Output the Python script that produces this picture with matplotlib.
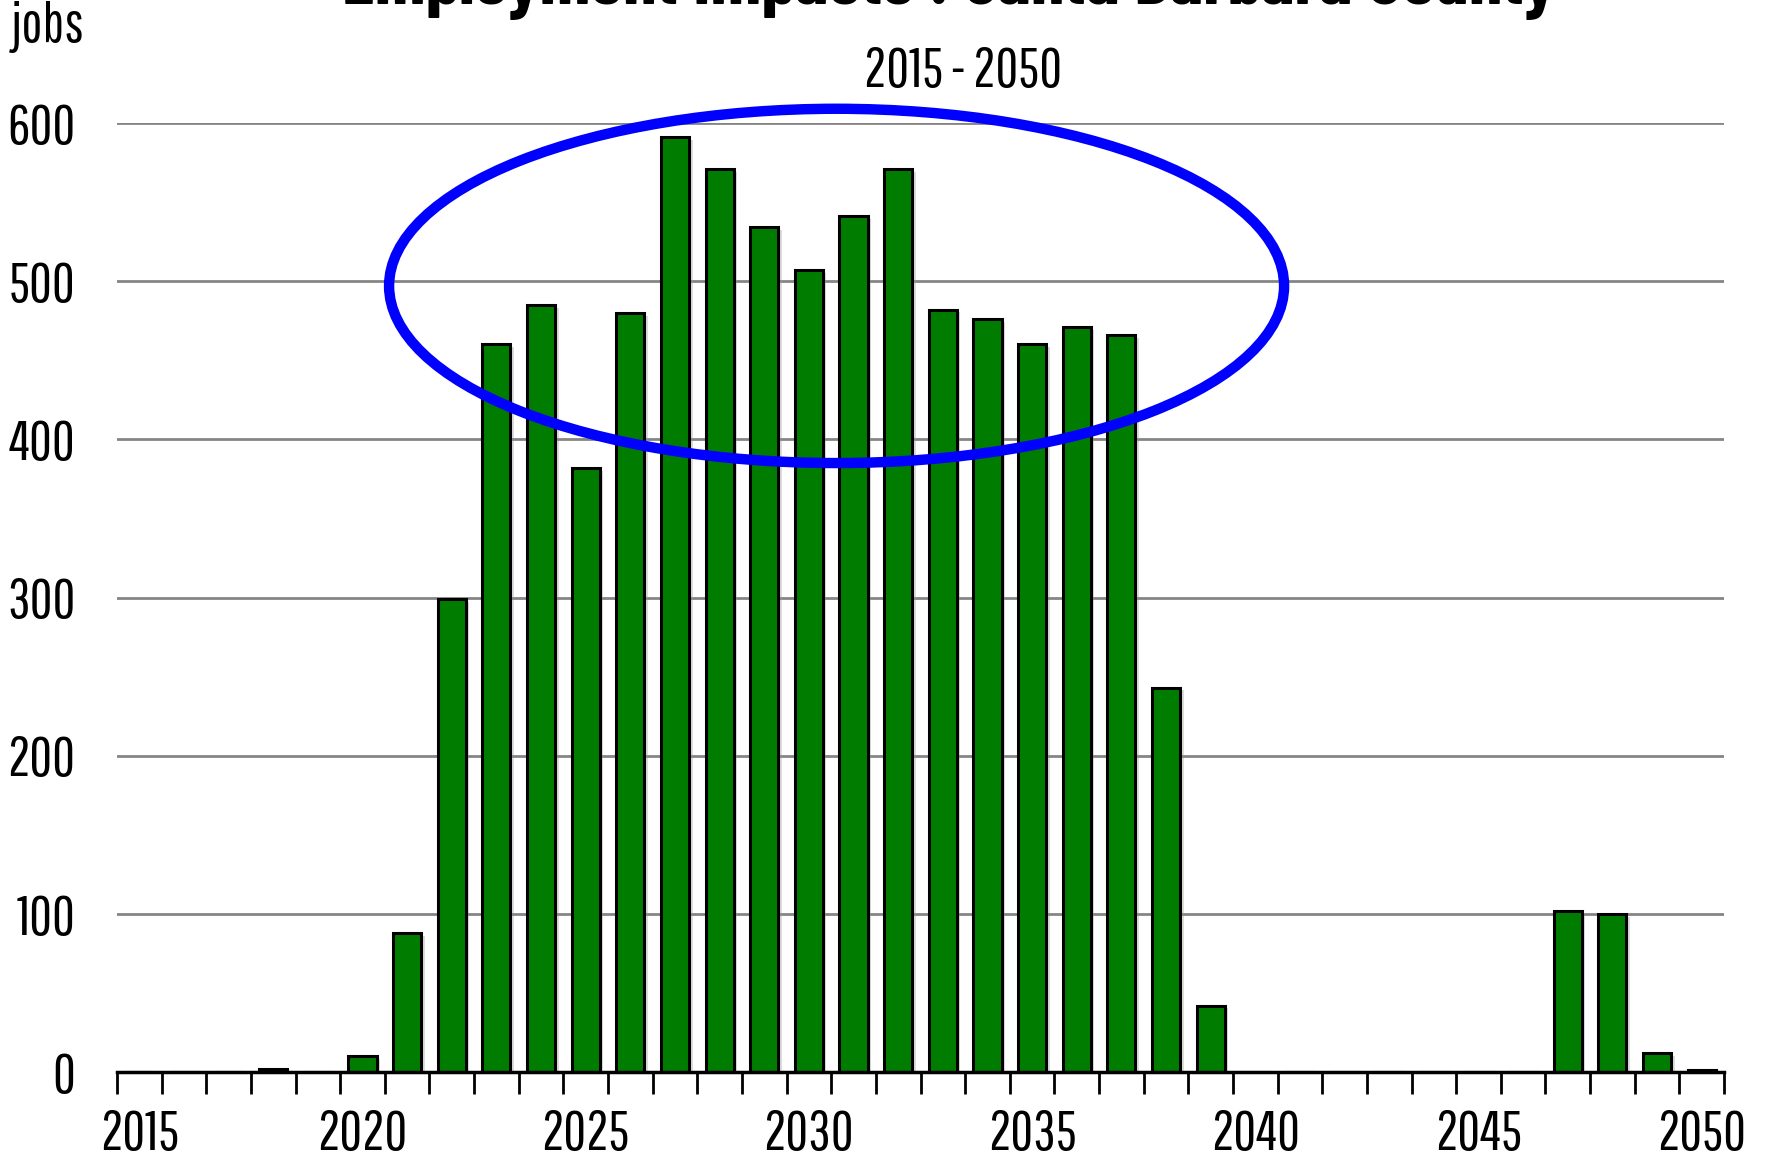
import matplotlib.pyplot as plt
from matplotlib.patches import Ellipse
import matplotlib.patheffects as pe

plt.rcParams['font.family'] = ['Pathway Gothic One', 'Archivo Narrow', 'DejaVu Sans']

years = list(range(2015, 2051))
jobs = [0, 0, 0, 2, 0, 10, 88, 299, 460, 485, 382, 480, 591, 571, 534, 507, 541, 571,
        482, 476, 460, 471, 466, 243, 42, -1, -1, -1, -1, -1, -1, -1, 102, 100, 12, 1]
label_years = [2015, 2020, 2025, 2030, 2035, 2040, 2045, 2050]

fig = plt.figure(figsize=(17.67, 11.58), dpi=100)
ax = fig.add_axes([117 / 1767, 1 - 1072 / 1158, (1724 - 117) / 1767, (1072 - 123) / 1158])

x = list(range(len(years)))
bars = ax.bar(x, jobs, width=0.63, color='#007d00', edgecolor='black', linewidth=2.2, zorder=3)
for b in bars:
    b.set_path_effects([pe.SimplePatchShadow(offset=(2.5, -2), shadow_rgbFace='#999999', alpha=0.35),
                        pe.Normal()])

ax.set_xlim(-0.5, len(years) - 0.5)
ax.set_ylim(0, 600)
ax.set_yticks(range(0, 601, 100))
ax.yaxis.grid(True, color='#858585', linewidth=2, zorder=0)
ax.tick_params(axis='y', length=0, labelsize=40, pad=30)

# boundary ticks between categories, labels at category centres
ax.set_xticks([i - 0.5 for i in range(len(years) + 1)])
ax.set_xticklabels([])
ax.set_xticks([years.index(y) for y in label_years], minor=True)
ax.set_xticklabels([str(y) for y in label_years], minor=True)
ax.tick_params(axis='x', which='major', length=16, width=2, direction='out')
ax.tick_params(axis='x', which='minor', length=0, labelsize=40, pad=26)

for s in ['top', 'right', 'left']:
    ax.spines[s].set_visible(False)
ax.spines['bottom'].set_linewidth(2.5)
ax.spines['bottom'].set_zorder(4)

ell = Ellipse((15.62, 497), width=20.05, height=224, fill=False, edgecolor='#0000ff',
              linewidth=7.5, clip_on=False, zorder=5)
ax.add_patch(ell)

fig.text(0.537, 1 - 4 / 1158, 'Employment Impacts : Santa Barbara County', ha='center',
         va='baseline', fontsize=54, fontweight='bold',
         family=['Barlow Condensed', 'Roboto Condensed', 'Archivo Narrow', 'DejaVu Sans'])
fig.text(963 / 1767, 1 - 71 / 1158, '2015 - 2050', ha='center', va='center', fontsize=40)
fig.text(0.006, 1 - 27 / 1158, 'jobs', ha='left', va='center', fontsize=40)

fig.savefig('out.png', dpi=100)
